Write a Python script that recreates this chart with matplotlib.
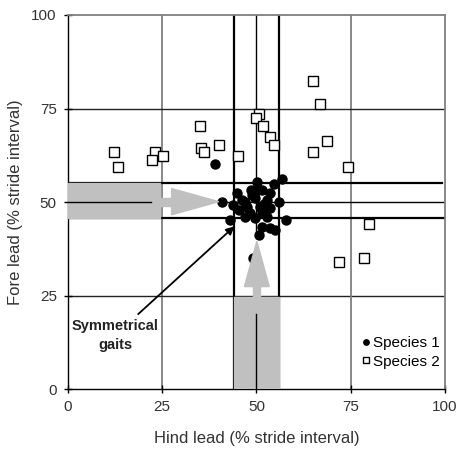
import matplotlib.pyplot as plt
from matplotlib.patches import Polygon, Rectangle

plt.rcParams['font.family'] = ['Liberation Sans', 'DejaVu Sans']

# Species 1 (filled circles): hind lead, fore lead
sp1_x = [38.9, 40.8, 49.2, 50.1, 56.8, 54.6, 44.9, 48.5, 51.4, 53.6, 46.1, 49.6, 52.7,
         55.9, 43.9, 47.4, 50.9, 53.6, 48.3, 49.6, 43.0, 52.9, 57.7, 51.6, 53.6, 54.9,
         50.6, 46.9, 48.7, 51.4, 47.0, 52.0, 50.0, 45.5]
sp1_y = [60.3, 50.1, 35.1, 55.3, 56.2, 54.7, 52.3, 53.2, 53.2, 52.3, 50.5, 51.0, 50.5,
         50.1, 49.2, 48.7, 48.7, 48.3, 47.0, 45.6, 45.2, 46.1, 45.2, 43.4, 43.0, 42.5,
         41.2, 46.1, 51.9, 47.4, 50.0, 49.5, 53.0, 47.8]

# Species 2 (open squares)
sp2_x = [64.9, 66.8, 50.7, 50.0, 51.7, 53.7, 54.7, 35.1, 35.2, 36.1, 40.1, 45.2, 12.1,
         13.2, 23.0, 22.2, 25.2, 64.9, 68.8, 74.4, 79.8, 78.6, 71.8]
sp2_y = [82.3, 76.3, 73.6, 72.5, 70.4, 67.5, 65.2, 70.4, 64.5, 63.4, 65.2, 62.2, 63.4,
         59.3, 63.4, 61.2, 62.2, 63.4, 66.3, 59.3, 44.2, 35.0, 33.9]

ticks = [0, 25, 50, 75, 100]

fig = plt.figure(figsize=(4.59, 4.61), dpi=100)
ax = fig.add_axes([0.148, 0.156, 0.8215, 0.8115])
ax.set_xlim(0, 100)
ax.set_ylim(0, 100)

# grid lines
for v in [25, 75]:
    ax.axvline(v, color='#7f7f7f', lw=1.3, zorder=1)
    ax.axhline(v, color='#222222', lw=1.0, zorder=1)

# symmetrical gait band lines
for v in [44, 56]:
    ax.axvline(v, color='black', lw=1.6, zorder=2)
ax.plot([0, 99.2], [55.2, 55.2], color='black', lw=1.6, zorder=2)
ax.axhline(45.6, color='black', lw=1.6, zorder=2)
ax.plot([50, 50], [41, 100], color='black', lw=1.0, zorder=2)
ax.plot([50, 50], [0, 20], color='black', lw=1.0, zorder=5)
ax.plot([41, 100], [50, 50], color='black', lw=1.0, zorder=2)
ax.plot([0, 22], [50, 50], color='black', lw=1.0, zorder=5)

ax.plot(sp1_x, sp1_y, 'o', color='black', ms=6.5, zorder=3, label='Species 1')
ax.plot(sp2_x, sp2_y, 's', mfc='white', mec='black', mew=1.0, ms=6.5, zorder=3,
        label='Species 2')

# gray block arrows
gray = '#c0c0c0'
ax.add_patch(Rectangle((0, 45.6), 24.4, 9.6, color=gray, zorder=4))
ax.add_patch(Rectangle((24.4, 49.0), 3.2, 2.0, color=gray, zorder=4))
ax.add_patch(Polygon([(27.5, 53.6), (27.5, 46.6), (40.0, 50.1)], color=gray, zorder=4))
ax.add_patch(Rectangle((44, 0), 12, 24.7, color=gray, zorder=4))
ax.add_patch(Rectangle((49.0, 24.7), 2.0, 2.8, color=gray, zorder=4))
ax.add_patch(Polygon([(46.8, 27.4), (53.4, 27.4), (50.1, 39.5)], color=gray, zorder=4))

ax.annotate('Symmetrical\ngaits', xy=(44.7, 44.0), xytext=(12.5, 14.4),
            ha='center', va='center', fontsize=10.5, fontweight='bold', color='#222222',
            linespacing=1.45,
            arrowprops=dict(arrowstyle='-|>', color='black', lw=1.3, mutation_scale=12,
                            shrinkA=2))

# spines and ticks
for s in ['top', 'right']:
    ax.spines[s].set_color('#7f7f7f')
    ax.spines[s].set_linewidth(1.3)
for s in ['left', 'bottom']:
    ax.spines[s].set_color('black')
    ax.spines[s].set_linewidth(1.0)
ax.set_xticks(ticks)
ax.set_yticks(ticks)
ax.tick_params(direction='inout', length=6, width=1.0, labelsize=11,
               labelcolor='#333333', pad=5)

ax.set_xlabel('Hind lead (% stride interval)', fontsize=12, color='#333333', labelpad=12)
ax.set_ylabel('Fore lead (% stride interval)', fontsize=12, color='#333333', labelpad=6)

ax.legend(loc='lower right', bbox_to_anchor=(1.01, 0.03), frameon=False, fontsize=11,
          markerscale=0.6, handlelength=0.6, handletextpad=0.15, labelspacing=0.3,
          borderaxespad=0.2)

fig.savefig('out.png', dpi=100)
